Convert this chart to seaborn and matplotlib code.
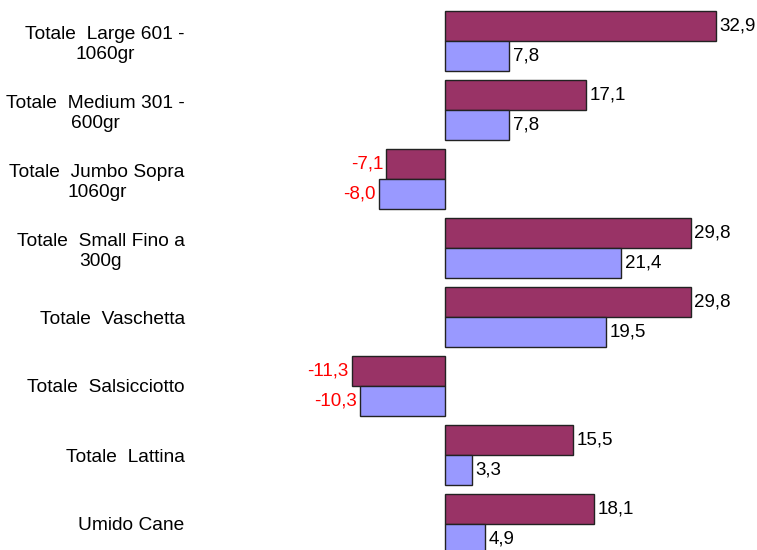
import matplotlib
matplotlib.use("Agg")
import matplotlib.pyplot as plt
import seaborn as sns
import pandas as pd

categories = ["Totale  Large 601 -\n1060gr", "Totale  Medium 301 -\n600gr",
              "Totale  Jumbo Sopra\n1060gr", "Totale  Small Fino a\n300g",
              "Totale  Vaschetta", "Totale  Salsicciotto", "Totale  Lattina",
              "Umido Cane"]
series_names = ["A", "B"]
values_a = [32.9, 17.1, -7.1, 29.8, 29.8, -11.3, 15.5, 18.1]
values_b = [7.8, 7.8, -8.0, 21.4, 19.5, -10.3, 3.3, 4.9]

df = pd.DataFrame({
    "cat": categories * 2,
    "serie": [series_names[0]] * len(categories) + [series_names[1]] * len(categories),
    "val": values_a + values_b,
})

sns.set_theme(style="white")
plt.rcParams["font.family"] = ["Liberation Sans", "DejaVu Sans"]
plt.rcParams["text.color"] = "black"
plt.rcParams["ytick.color"] = "black"

W, H = 757, 550
fig = plt.figure(figsize=(W / 100, H / 100), dpi=100)
left_px, right_px = 200, 757
top_px, bottom_px = 6.5, 558.5
ax = fig.add_axes([left_px / W, (H - bottom_px) / H, (right_px - left_px) / W, (bottom_px - top_px) / H])

sns.barplot(data=df, x="val", y="cat", hue="serie", orient="h", ax=ax,
            palette=["#993366", "#9999FF"], width=0.87, dodge=True,
            edgecolor="#222222", linewidth=1.0, saturation=1, legend=False)

scale = 8.24  # px per unit
ax.set_xlim((left_px - 445) / scale, (right_px - 445) / scale)
ax.set_ylim(len(categories) - 0.5, -0.5)

FS = 13.8
for cont in ax.containers:
    labels = ax.bar_label(cont, labels=[f"{v:.1f}".replace(".", ",") for v in cont.datavalues],
                          padding=2.5, fontsize=13.5)
    for t, v in zip(labels, cont.datavalues):
        t.set_color("red" if v < 0 else "black")

ax.set_xlabel("")
ax.set_ylabel("")
ax.set_xticks([])
ax.tick_params(axis="y", length=0, pad=11, labelsize=FS, labelcolor="black")
for lab in ax.get_yticklabels():
    lab.set_ha("right")
    lab.set_multialignment("center")
    lab.set_linespacing(1.25)
for s in ax.spines.values():
    s.set_visible(False)

fig.savefig("out.png", dpi=100)
